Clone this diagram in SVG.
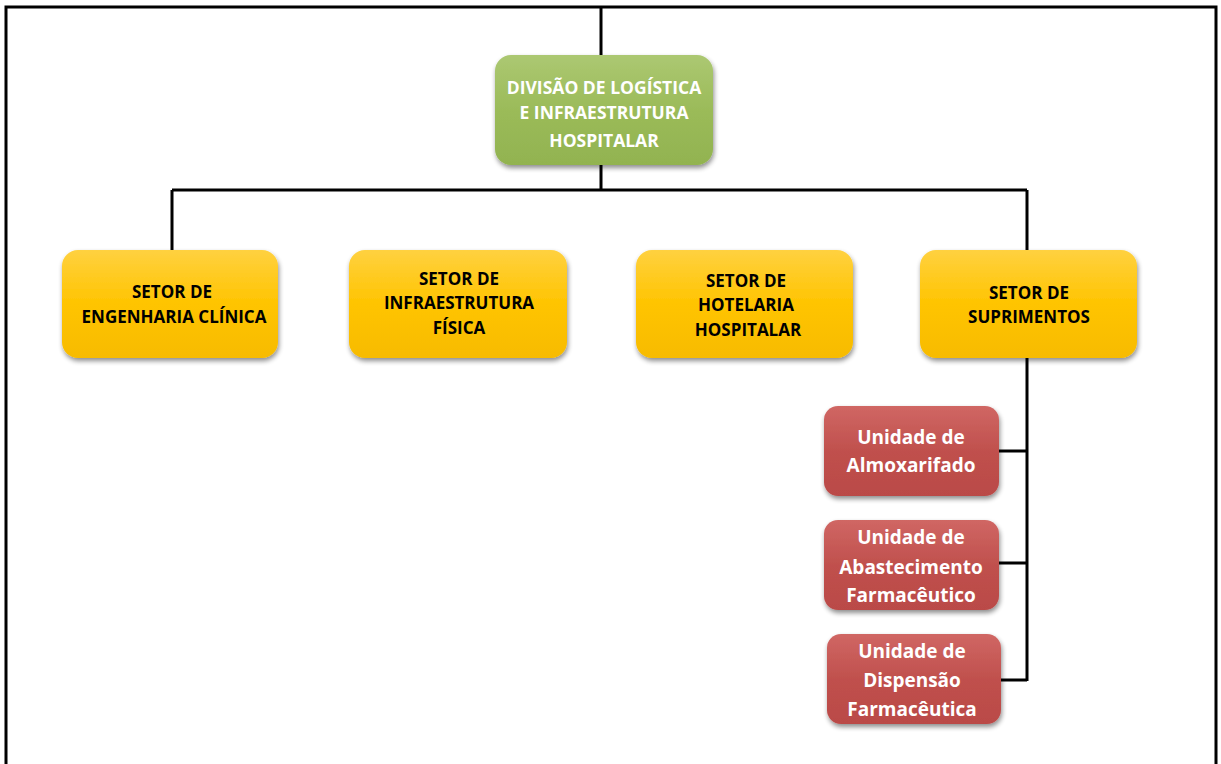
<svg xmlns="http://www.w3.org/2000/svg" width="1221" height="764" viewBox="0 0 1221 764">
<defs>
<linearGradient id="gG" x1="0" y1="0" x2="0" y2="1"><stop offset="0" stop-color="#acc872"/><stop offset="0.5" stop-color="#9bbb59"/><stop offset="1" stop-color="#92b350"/></linearGradient>
<linearGradient id="gY" x1="0" y1="0" x2="0" y2="1"><stop offset="0" stop-color="#ffd140"/><stop offset="0.5" stop-color="#ffc400"/><stop offset="1" stop-color="#f7bb00"/></linearGradient>
<linearGradient id="gR" x1="0" y1="0" x2="0" y2="1"><stop offset="0" stop-color="#d06764"/><stop offset="0.5" stop-color="#c0504d"/><stop offset="1" stop-color="#ba4a47"/></linearGradient>
<filter id="sh" x="-10%" y="-10%" width="125%" height="130%"><feGaussianBlur in="SourceAlpha" stdDeviation="2.5"/><feOffset dx="1" dy="3"/><feComponentTransfer><feFuncA type="linear" slope="0.45"/></feComponentTransfer><feMerge><feMergeNode/><feMergeNode in="SourceGraphic"/></feMerge></filter>
</defs>
<style>
.frame{fill:none;stroke:#000;stroke-width:3}
.conn{fill:none;stroke:#000;stroke-width:3}
.box{filter:url(#sh)}
.t{font-family:"Open Sans","Liberation Sans",sans-serif;font-weight:bold;text-anchor:middle}
.tw{fill:#fff;font-size:17.5px}
.tb{fill:#000;font-size:17px}
.tr{fill:#fff;font-size:19px}
</style>
<rect width="1221" height="764" fill="#fff"/>
<path class="frame" d="M6,764 V7 H1216 V764"/>
<g id="connectors">
<path class="conn" d="M601,7 V56"/>
<path class="conn" d="M601,164 V190 M172,190 H1027 M172,190 V251 M1027,190 V251"/>
<path class="conn" d="M1027,357 V681 M998,451 H1027 M998,563 H1027 M1000,680 H1027"/>
</g>
<g id="n-divisao">
<rect class="box" x="495" y="55" width="218" height="110" rx="16" fill="url(#gG)"/>
<text class="t tw" x="604" y="94">DIVISÃO DE LOGÍSTICA</text>
<text class="t tw" x="604" y="119">E INFRAESTRUTURA</text>
<text class="t tw" x="604" y="147">HOSPITALAR</text>
</g>
<g id="n-eng">
<rect class="box" x="62" y="250" width="216" height="108" rx="16" fill="url(#gY)"/>
<text class="t tb" x="172" y="298">SETOR DE</text>
<text class="t tb" x="174" y="323">ENGENHARIA CLÍNICA</text>
</g>
<g id="n-infra">
<rect class="box" x="349" y="250" width="218" height="108" rx="16" fill="url(#gY)"/>
<text class="t tb" x="459" y="285">SETOR DE</text>
<text class="t tb" x="459" y="309">INFRAESTRUTURA</text>
<text class="t tb" x="459" y="334">FÍSICA</text>
</g>
<g id="n-hotel">
<rect class="box" x="636" y="250" width="217" height="108" rx="16" fill="url(#gY)"/>
<text class="t tb" x="746" y="287">SETOR DE</text>
<text class="t tb" x="746" y="311">HOTELARIA</text>
<text class="t tb" x="748" y="336">HOSPITALAR</text>
</g>
<g id="n-supr">
<rect class="box" x="920" y="250" width="217" height="108" rx="16" fill="url(#gY)"/>
<text class="t tb" x="1029" y="299">SETOR DE</text>
<text class="t tb" x="1029" y="323">SUPRIMENTOS</text>
</g>
<g id="n-almox">
<rect class="box" x="824" y="406" width="175" height="90" rx="14" fill="url(#gR)"/>
<text class="t tr" x="911" y="444">Unidade de</text>
<text class="t tr" x="911" y="472">Almoxarifado</text>
</g>
<g id="n-abast">
<rect class="box" x="824" y="520" width="175" height="90" rx="14" fill="url(#gR)"/>
<text class="t tr" x="911" y="544">Unidade de</text>
<text class="t tr" x="911" y="574">Abastecimento</text>
<text class="t tr" x="911" y="602">Farmacêutico</text>
</g>
<g id="n-disp">
<rect class="box" x="827" y="634" width="174" height="90" rx="14" fill="url(#gR)"/>
<text class="t tr" x="912" y="658">Unidade de</text>
<text class="t tr" x="912" y="687">Dispensão</text>
<text class="t tr" x="912" y="716">Farmacêutica</text>
</g>
</svg>
